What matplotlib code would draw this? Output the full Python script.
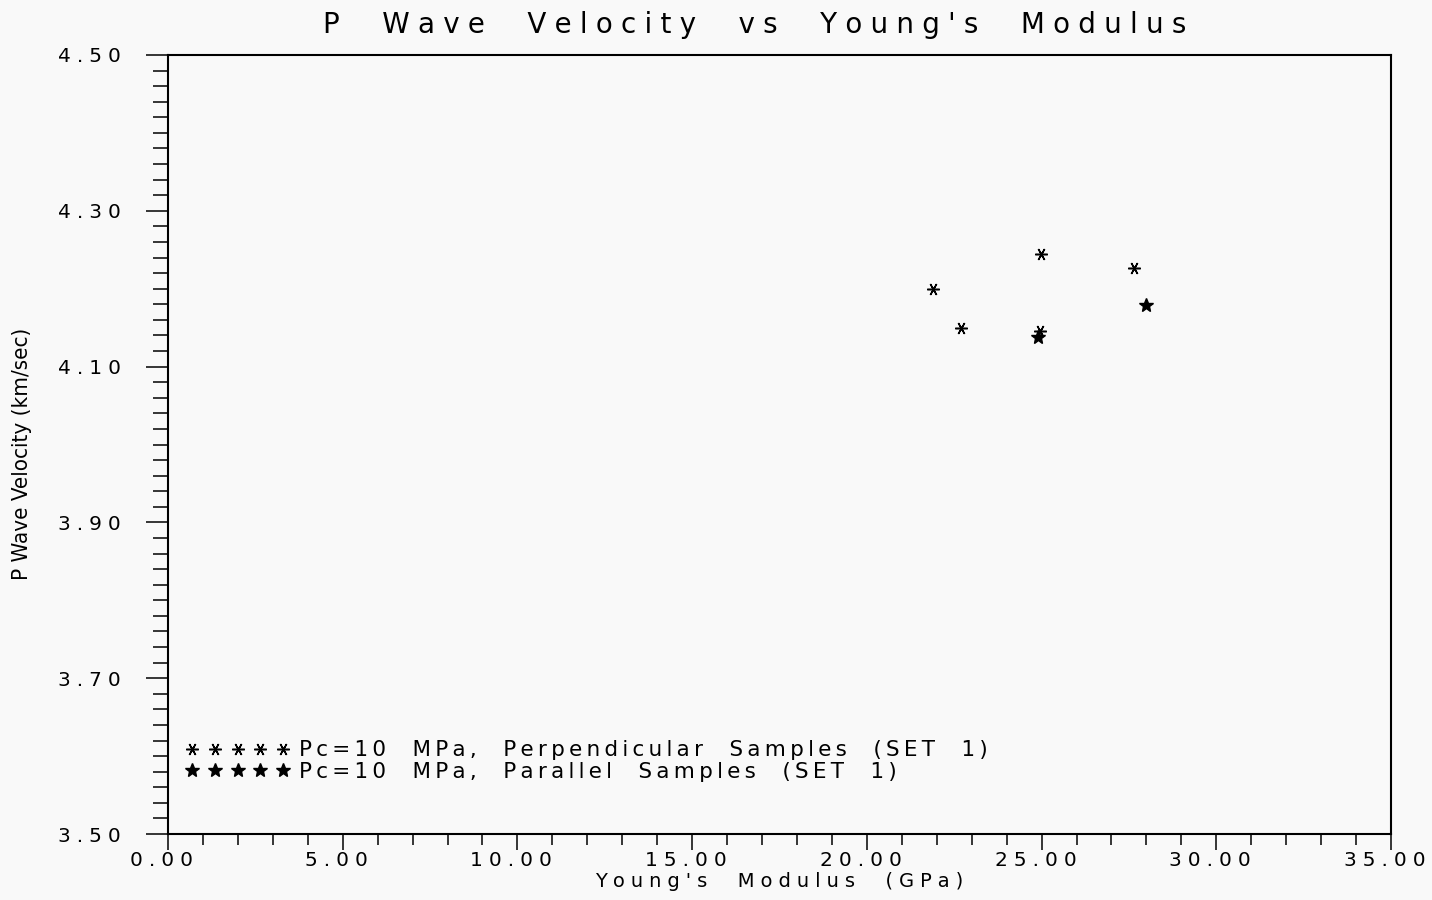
import matplotlib
matplotlib.use('Agg')
from matplotlib import pyplot as plt
from matplotlib.ticker import MultipleLocator, FixedLocator
from matplotlib.transforms import ScaledTranslation

# Data
perp_E  = [21.88, 22.69, 24.97, 24.95, 27.65]   # Young's modulus (GPa)
perp_Vp = [4.199, 4.149, 4.245, 4.146, 4.227]   # P wave velocity (km/sec)
par_E   = [24.89, 27.99]
par_Vp  = [4.138, 4.179]

perp_label = 'Pc=10  MPa,  Perpendicular  Samples  (SET  1)'
par_label  = 'Pc=10  MPa,  Parallel  Samples  (SET  1)'
title      = "P  Wave  Velocity  vs  Young's  Modulus"
xlabel     = "Young's  Modulus  (GPa)"
ylabel     = 'P Wave Velocity (km/sec)'

x_lim   = [0., 35.]
y_lim   = [3.50, 4.50]
x_major = [0., 5., 10., 15., 20., 25., 30., 35.]
y_major = [3.50, 3.70, 3.90, 4.10, 4.30, 4.50]

HS = '\u200a'   # hair space, widens letter spacing like the old plotter font
def spaced(s, k=2):
	return (HS*k).join(s)

bg = '#f9f9f9'
fig = plt.figure(figsize=(14.32, 9.0), dpi=100, facecolor=bg)
ax = fig.add_axes([0.1173, 0.0733, 0.8541, 0.8656], facecolor=bg)

ax.plot(perp_E, perp_Vp, linestyle='none', marker=(6, 2, 90), markersize=9,
	markeredgewidth=1.1, color='k', label=spaced(perp_label, 2))
ax.plot(par_E, par_Vp, linestyle='none', marker='*', markersize=10,
	color='k', label=spaced(par_label, 2))

ax.set_xlim(x_lim), ax.set_ylim(y_lim)
ax.xaxis.set_major_locator(FixedLocator(x_major))
ax.xaxis.set_minor_locator(MultipleLocator(1.))
ax.yaxis.set_major_locator(FixedLocator(y_major))
ax.yaxis.set_minor_locator(MultipleLocator(0.02))

ax.set_xticklabels([spaced('%.2f' % v, 3) for v in x_major])
ax.set_yticklabels([spaced('%.2f' % v, 3) for v in y_major])

ax.tick_params(axis='x', which='major', direction='out', length=11.5, width=1.1, labelsize=14.5, pad=1)
ax.tick_params(axis='x', which='minor', direction='out', length=8, width=1.1)
ax.tick_params(axis='y', which='major', direction='out', length=15.8, width=1.1, labelsize=14.5, pad=18)
ax.tick_params(axis='y', which='minor', direction='out', length=10.8, width=1.1)
for sp in ax.spines.values():
	sp.set_linewidth(1.5)

# plotter labels sit a little left of their ticks
shift = ScaledTranslation(-6/100., 0, fig.dpi_scale_trans)
for lab in ax.get_xticklabels():
	lab.set_transform(lab.get_transform() + shift)

ax.set_xlabel(spaced(xlabel, 3), fontsize=14, labelpad=1)
fig.text(22/1432., 1-454/900., ylabel, rotation=90, ha='center', va='center',
	fontsize=16, family='DejaVu Sans', fontstretch='condensed')
fig.text(755/1432., 1-25/900., spaced(title, 3), ha='center', va='center', fontsize=20)

ax.legend(loc='lower left', bbox_to_anchor=(0.0145, 0.067), frameon=False, numpoints=5,
	handlelength=4.83, handletextpad=0.45, labelspacing=0.08, borderpad=0, borderaxespad=0,
	fontsize=15.5)

plt.savefig('out.png', dpi=100, facecolor=bg)
